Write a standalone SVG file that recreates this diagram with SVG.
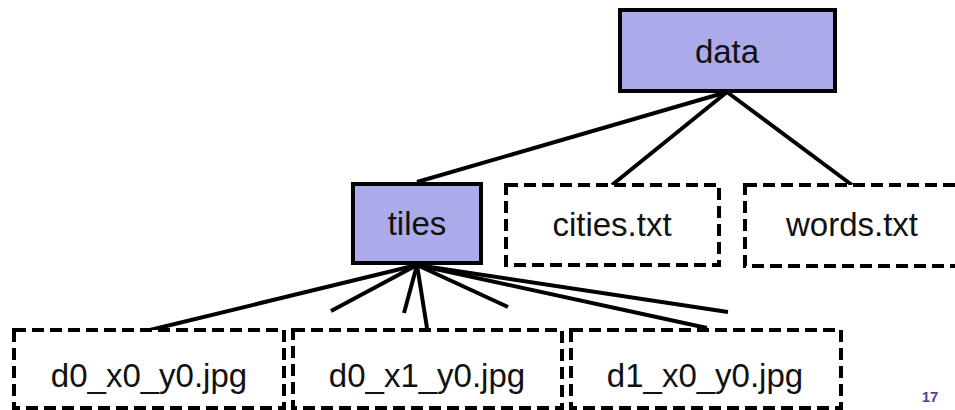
<svg xmlns="http://www.w3.org/2000/svg" width="955" height="410" viewBox="0 0 955 410">
<style>
.dir{fill:#ababea;stroke:#000;stroke-width:4}
.file{fill:#fff;stroke:#000;stroke-width:4;stroke-dasharray:12 6}
.lbl{font-family:"Liberation Sans",Arial,sans-serif;font-size:33px;fill:#111;text-anchor:middle}
.conn line{stroke:#000;stroke-width:4}
</style>
<rect width="955" height="410" fill="#fff"/>
<g id="connectors" class="conn">
<line x1="727" y1="92" x2="417" y2="182"/>
<line x1="727" y1="92" x2="612" y2="185"/>
<line x1="727" y1="92" x2="852" y2="185"/>
<line x1="417" y1="265" x2="150" y2="330"/>
<line x1="417" y1="265" x2="331" y2="311"/>
<line x1="417" y1="265" x2="404" y2="313"/>
<line x1="417" y1="265" x2="427" y2="328"/>
<line x1="417" y1="265" x2="508" y2="307"/>
<line x1="417" y1="265" x2="707" y2="328"/>
<line x1="417" y1="265" x2="728" y2="312"/>
</g>
<g id="data">
<rect class="dir" x="620" y="10" width="215" height="81"/>
<text class="lbl" x="727" y="63">data</text>
</g>
<g id="tiles">
<rect class="dir" x="353" y="184" width="128" height="79"/>
<text class="lbl" x="417" y="235">tiles</text>
</g>
<g id="cities">
<rect class="file" x="506" y="185" width="213" height="80"/>
<text class="lbl" x="612" y="236">cities.txt</text>
</g>
<g id="words">
<rect class="file" x="745" y="185" width="230" height="81"/>
<text class="lbl" x="852" y="236">words.txt</text>
</g>
<g id="d0_x0_y0">
<rect class="file" x="14" y="330" width="270" height="78"/>
<text class="lbl" x="149" y="387">d0_x0_y0.jpg</text>
</g>
<g id="d0_x1_y0">
<rect class="file" x="293" y="330" width="269" height="78"/>
<text class="lbl" x="427" y="387">d0_x1_y0.jpg</text>
</g>
<g id="d1_x0_y0">
<rect class="file" x="571" y="330" width="270" height="78"/>
<text class="lbl" x="705" y="387">d1_x0_y0.jpg</text>
</g>
<text x="930" y="402" font-family="Liberation Sans,Arial,sans-serif" font-size="15" font-weight="bold" fill="#5b3a9e" text-anchor="middle">17</text>
</svg>
